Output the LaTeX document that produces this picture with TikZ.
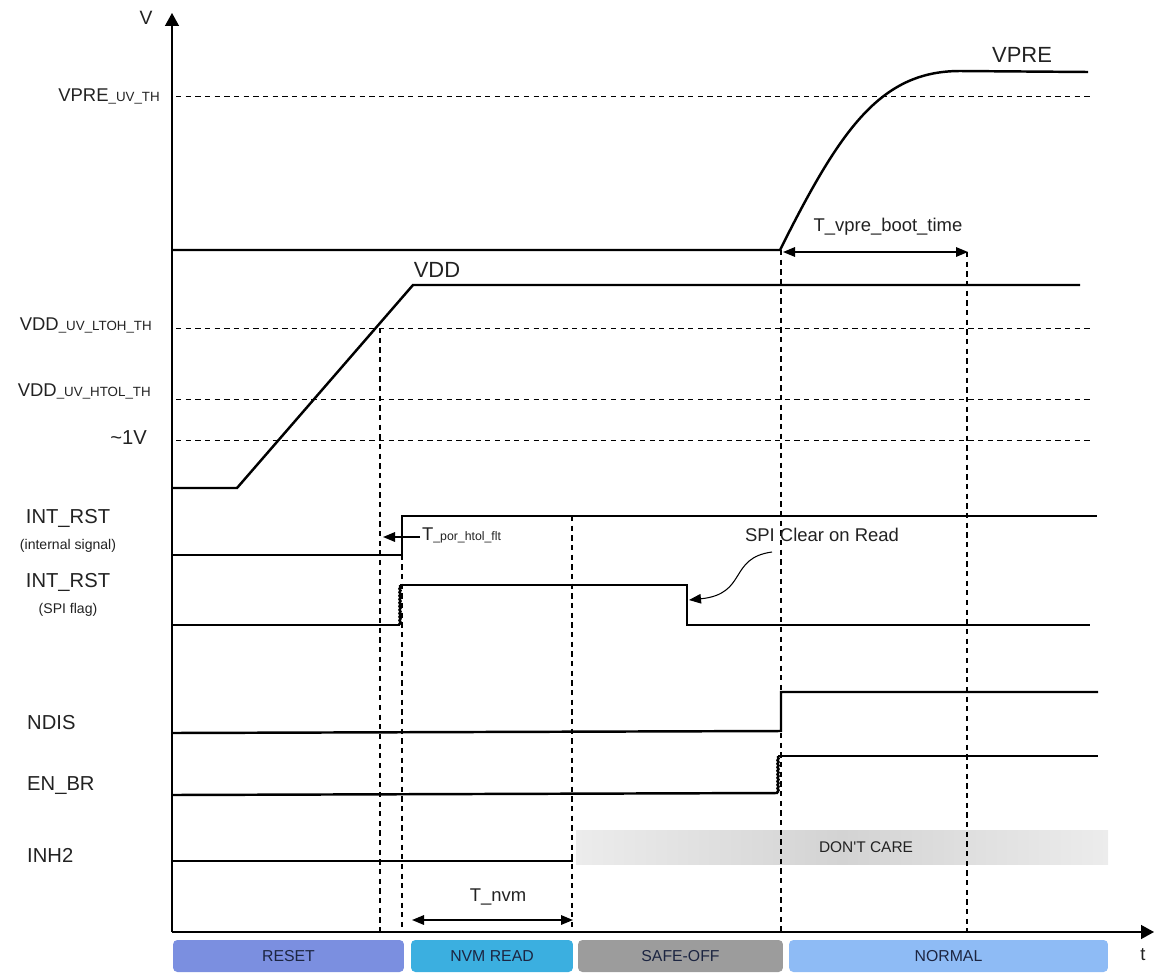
\documentclass[tikz,border=0pt]{standalone}
\usepackage{fontspec}
\setmainfont{Liberation Sans}
\usetikzlibrary{arrows.meta, positioning, calc, decorations.pathmorphing}
\definecolor{resetblue}{HTML}{7B8FE0}
\definecolor{nvmblue}{HTML}{3BAFE0}
\definecolor{safegray}{HTML}{9C9C9C}
\definecolor{normalblue}{HTML}{8EBBF5}
\definecolor{boxtext}{HTML}{1C2541}
\definecolor{inktext}{HTML}{222222}
\definecolor{careedge}{HTML}{ECECEC}
\definecolor{caremid}{HTML}{D3D3D3}
\tikzset{
  signal/.style={
    line width=1.4pt,
    line join=miter
  },
  thresh/.style={
    dash pattern=on 3pt off 2.5pt,
    line width=0.5pt
  },
  marker/.style={
    dash pattern=on 3pt off 2.5pt,
    line width=0.6pt
  },
  phase/.style={
    rectangle,
    rounded corners=2.5pt,
    inner sep=0pt,
    outer sep=0pt,
    minimum height=0.64cm,
    font=\fontsize{9}{10}\selectfont,
    text=boxtext
  },
  dimarrow/.style={
    {Triangle[length=2.4mm,width=1.9mm]}-{Triangle[length=2.4mm,width=1.9mm]},
    line width=0.9pt},
  jitter/.style={
    decorate,
    decoration={snake, amplitude=0.3pt, segment length=2pt}}
}
\newcommand{\thsub}[1]{{\fontsize{7.6}{8}\selectfont #1}}

\begin{document}
\begin{tikzpicture}[x=0.02cm, y=-0.02cm,
  axis/.style={line width=0.8pt, -{Triangle[length=2.6mm,width=2.8mm]}},
  siglabel/.style={font=\fontsize{11.5}{13}\selectfont, text=inktext, align=center},
  notelabel/.style={font=\fontsize{8}{9}\selectfont, text=inktext},
  thlabel/.style={font=\fontsize{10.5}{12}\selectfont, text=inktext, anchor=east},
  curvelabel/.style={font=\fontsize{12.5}{14}\selectfont, text=inktext},
  timelabel/.style={font=\fontsize{10.5}{12}\selectfont, text=inktext}
]
\useasboundingbox (0,0) rectangle (1163,974);

%% ---- axes ----
\coordinate (origin) at (172,932);
\coordinate (vtop) at (172,13);
\coordinate (tend) at (1154,932);
\draw[axis] (origin) -- (vtop);
\draw[axis] (origin) -- (tend);
\node[font=\fontsize{11}{12}\selectfont, text=inktext] (vlab) at (146,18) {V};
\node[font=\fontsize{10.5}{12}\selectfont, text=inktext] (tlab) at (1143,955) {t};

%% ---- threshold levels ----
\draw[thresh] (176,96)  -- (1090,96);
\draw[thresh] (176,328) -- (1090,328);
\draw[thresh] (176,399) -- (1090,399);
\draw[thresh] (176,440) -- (1090,440);
\node[thlabel] (vpreth) at (166,96)  {VPRE\thsub{\_UV\_TH}};
\node[thlabel] (ltoh)   at (158,325) {VDD\thsub{\_UV\_LTOH\_TH}};
\node[thlabel] (htol)   at (157,391) {VDD\thsub{\_UV\_HTOL\_TH}};
\node[thlabel, font=\fontsize{11.5}{13}\selectfont] (onev) at (153,438) {\textasciitilde 1V};

%% ---- don't care band (under the markers) ----
\shade[left color=careedge, right color=caremid] (576,830) rectangle (842,864);
\shade[left color=caremid, right color=careedge] (842,830) rectangle (1108,864);
\node[font=\fontsize{8.8}{10}\selectfont, text=inktext] (dontcare) at (866,847)
  {DON\textquotesingle T CARE};

%% ---- time markers ----
\draw[marker] (380,328) -- (380,932);
\draw[marker] (402,516) -- (402,932);
\draw[marker] (572,516) -- (572,932);
\draw[marker] (781,250) -- (781,932);
\draw[marker] (967,252) -- (967,932);

%% ---- VPRE / VDD ----
\draw[signal] (172,250) -- (780,250)
  .. controls (840,130) and (880,71) .. (960,71) -- (1088,72);
\node[curvelabel] (vprelab) at (1022,55) {VPRE};
\draw[signal] (172,488) -- (237,488) -- (413,285) -- (1080,285);
\node[curvelabel] (vddlab) at (437,270) {VDD};

%% ---- digital signals ----
\draw[signal] (172,555) -- (402,555) -- (402,516) -- (1097,516);
\draw[signal] (172,625) -- (400,625);
\draw[signal, jitter] (400,625) -- (400,585);
\draw[signal] (400,585) -- (687,585) -- (687,625) -- (1090,625);
\draw[signal] (172,733) -- (781,731) -- (781,692) -- (1098,692);
\draw[signal] (172,795) -- (778,793);
\draw[signal, jitter] (778,793) -- (778,756);
\draw[signal] (778,756) -- (1098,756);
\draw[signal] (172,861) -- (572,861) -- (572,855);

\node[siglabel] (intrst) at (68,518) {INT\_RST};
\node[notelabel, below=0pt of intrst] (intnote) {(internal signal)};
\node[siglabel] (spirst) at (68,582) {INT\_RST};
\node[notelabel, below=0pt of spirst] (spinote) {(SPI flag)};
\node[siglabel, anchor=west] (ndis) at (21,723) {NDIS};
\node[siglabel, anchor=west] (enbr) at (21,786) {EN\_BR};
\node[siglabel, anchor=west] (inh) at (21,855) {INH2};

%% ---- timing annotations ----
\coordinate (bootA) at (783,252);
\coordinate (bootB) at (968,252);
\draw[dimarrow] (bootA) -- (bootB);
\node[timelabel] (bootlab) at (888,227) {T\_vpre\_boot\_time};

\coordinate (nvmA) at (412,920);
\coordinate (nvmB) at (573,920);
\draw[dimarrow] (nvmA) -- (nvmB);
\node[timelabel] (nvmlab) at (498,897) {T\_nvm};

\node[timelabel, anchor=west, inner sep=1pt] (porlab) at (420,535)
  {T{\fontsize{7}{8}\selectfont\_por\_htol\_flt}};
\coordinate (porA) at (383,537);
\draw[line width=0.9pt, -{Triangle[length=2.4mm,width=1.9mm]}] (porlab.west |- porA) -- (porA);

\node[timelabel] (spilab) at (822,535) {SPI Clear on Read};
\coordinate (spitip) at (689,600);
\draw[line width=0.6pt, -{Triangle[length=2.4mm,width=1.9mm]}]
  (772,552) .. controls (728,558) and (748,594) .. (spitip);

%% ---- phases ----
\node[phase, fill=resetblue,  minimum width=4.62cm] (reset)  at (288.5,956) {RESET};
\node[phase, fill=nvmblue,    minimum width=3.24cm] (nvm)    at (492,956)   {NVM READ};
\node[phase, fill=safegray,   minimum width=4.10cm] (safe)   at (680.5,956) {SAFE-OFF};
\node[phase, fill=normalblue, minimum width=6.38cm] (normal) at (948.5,956) {NORMAL};

\end{tikzpicture}
\end{document}
